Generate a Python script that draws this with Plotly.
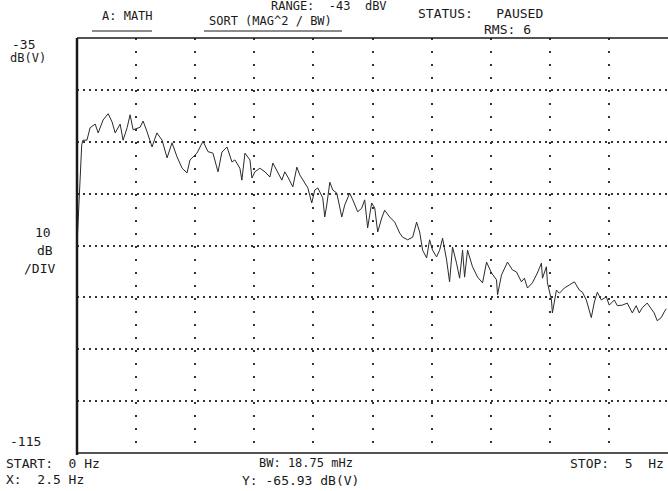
import plotly.graph_objects as go

# ---- data (frequency in Hz, level in dB(V)) ----
freq_hz = [0.00, 0.01, 0.02, 0.03, 0.04, 0.05, 0.084, 0.111, 0.154, 0.179, 0.221, 0.264, 0.297, 0.323,
           0.365, 0.390, 0.424, 0.449, 0.475, 0.534, 0.559, 0.593, 0.635, 0.676, 0.720, 0.762, 0.804,
           0.846, 0.889, 0.931, 0.956, 1.015, 1.066, 1.108, 1.150, 1.193, 1.226, 1.269, 1.311, 1.336,
           1.378, 1.395, 1.421, 1.463, 1.480, 1.505, 1.547, 1.590, 1.632, 1.657, 1.699, 1.733, 1.758,
           1.784, 1.826, 1.860, 1.885, 1.927, 1.953, 1.986, 2.012, 2.037, 2.079, 2.096, 2.113, 2.139,
           2.164, 2.198, 2.240, 2.265, 2.307, 2.333, 2.375, 2.409, 2.434, 2.459, 2.493, 2.519, 2.544,
           2.578, 2.603, 2.645, 2.688, 2.730, 2.755, 2.797, 2.840, 2.873, 2.899, 2.924, 2.958, 2.983,
           3.008, 3.042, 3.068, 3.093, 3.127, 3.152, 3.177, 3.211, 3.237, 3.262, 3.279, 3.304, 3.346,
           3.389, 3.431, 3.465, 3.507, 3.549, 3.558, 3.591, 3.642, 3.684, 3.718, 3.760, 3.785, 3.811,
           3.853, 3.895, 3.929, 3.938, 3.971, 3.980, 4.014, 4.022, 4.056, 4.081, 4.123, 4.166, 4.208,
           4.250, 4.276, 4.309, 4.334, 4.351, 4.377, 4.402, 4.436, 4.478, 4.503, 4.546, 4.571, 4.613,
           4.655, 4.698, 4.731, 4.757, 4.782, 4.824, 4.858, 4.883, 4.909, 4.943, 4.968, 4.985]
level_db = [-74.9, -70.1, -64.3, -58.5, -55.6, -54.7, -54.7, -52.3, -51.6, -53.3, -50.8, -49.6, -51.2, -53.3,
            -51.6, -54.7, -52.3, -49.8, -52.7, -52.2, -51.0, -53.1, -56.0, -53.3, -54.7, -58.1, -55.2,
            -57.9, -60.1, -61.0, -58.5, -57.2, -54.9, -56.9, -57.2, -60.8, -57.0, -56.0, -58.9, -58.5,
            -60.1, -62.4, -57.2, -58.5, -62.0, -60.8, -60.1, -60.8, -61.8, -59.1, -61.0, -62.4, -60.8,
            -61.8, -63.7, -59.9, -61.4, -63.0, -63.9, -66.8, -64.3, -63.9, -65.8, -69.5, -67.2, -62.8,
            -64.3, -64.9, -69.5, -67.2, -64.9, -66.2, -68.5, -67.8, -66.2, -71.6, -66.8, -67.8, -72.4,
            -69.7, -68.2, -69.5, -70.5, -72.6, -73.4, -73.9, -73.4, -70.5, -72.4, -75.9, -77.4, -73.9,
            -75.9, -77.2, -75.9, -73.6, -77.8, -82.0, -75.3, -78.4, -81.3, -75.9, -81.1, -75.9, -79.1,
            -81.1, -82.2, -78.2, -80.3, -81.6, -84.5, -80.7, -78.2, -79.7, -80.1, -82.0, -81.3, -83.2,
            -82.2, -80.3, -78.4, -81.3, -79.1, -82.2, -85.5, -88.0, -83.6, -84.2, -83.2, -82.6, -82.0,
            -83.6, -84.0, -85.5, -87.5, -88.9, -85.9, -84.0, -85.5, -84.9, -86.5, -85.5, -86.6, -86.5,
            -86.1, -88.0, -86.6, -88.0, -87.0, -86.1, -87.2, -88.0, -89.5, -88.9, -87.8, -87.2]

x_range = [0, 5]
y_range = [-115, -35]
x_div = 0.5
y_div = 10

header_texts = ["A: MATH", "SORT (MAG^2 / BW)", "RANGE:  -43  dBV", "STATUS:   PAUSED", "RMS: 6"]
left_texts = ["-35", "dB(V)", "10", "dB", "/DIV", "-115"]
footer_texts = ["START:  0 Hz", "X:  2.5 Hz", "BW: 18.75 mHz", "Y: -65.93 dB(V)", "STOP:  5  Hz"]

# ---- layout geometry (pixels) ----
W, H = 668, 491
L, R, T, B = 77, 0, 38, 38
PW, PH = W - L - R, H - T - B


def px(x):
    return (x - L) / PW


def py(y):
    return (H - B - y) / PH


INK = "#1a1a1a"
FONT = "DejaVu Sans Mono"

fig = go.Figure()
fig.add_trace(go.Scatter(x=freq_hz, y=level_db, mode="lines",
                         line=dict(color="#2a2a2a", width=1), hoverinfo="skip",
                         showlegend=False))

fig.update_xaxes(range=x_range, dtick=x_div, tick0=0, showticklabels=False, ticks="",
                 showgrid=True, gridcolor="#333333", gridwidth=2, griddash="2px,11px",
                 zeroline=False, showline=False)
fig.update_yaxes(range=y_range, dtick=y_div, tick0=-115, showticklabels=False, ticks="",
                 showgrid=True, gridcolor="#333333", gridwidth=1.5, griddash="2px,4px",
                 zeroline=False, showline=False)

shapes = [
    dict(type="line", xref="paper", yref="paper", x0=0, x1=0, y0=-0.005, y1=1.0,
         line=dict(color=INK, width=2.5)),
    dict(type="line", xref="paper", yref="paper", x0=0, x1=1, y0=1, y1=1,
         line=dict(color=INK, width=1.5)),
    dict(type="line", xref="paper", yref="paper", x0=0, x1=1, y0=0, y1=0,
         line=dict(color=INK, width=1.5)),
    dict(type="line", xref="paper", yref="paper", x0=px(92), x1=px(152), y0=py(31), y1=py(31),
         line=dict(color=INK, width=1)),
    dict(type="line", xref="paper", yref="paper", x0=px(204), x1=px(342), y0=py(31), y1=py(31),
         line=dict(color=INK, width=1)),
]

# (x, centre y, font size, anchor) in pixels
ann_pos = {
    "A: MATH": (100, 16, 12, "left"),
    "SORT (MAG^2 / BW)": (207, 21, 12, "left"),
    "RANGE:  -43  dBV": (269, 6, 12, "left"),
    "STATUS:   PAUSED": (416, 14, 13, "left"),
    "RMS: 6": (482, 29, 13, "left"),
    "-35": (10, 44, 13, "left"),
    "dB(V)": (8, 58, 12, "left"),
    "10": (33, 233, 13, "left"),
    "dB": (35, 250, 13, "left"),
    "/DIV": (22, 268, 13, "left"),
    "-115": (8, 441, 13, "left"),
    "START:  0 Hz": (4, 463, 13, "left"),
    "X:  2.5 Hz": (4, 479, 13, "left"),
    "BW: 18.75 mHz": (257, 463, 12, "left"),
    "Y: -65.93 dB(V)": (240, 480, 13, "left"),
    "STOP:  5  Hz": (666, 464, 13, "right"),
}

annotations = []
for t in header_texts + left_texts + footer_texts:
    x, y, s, anc = ann_pos[t]
    annotations.append(dict(text=t, xref="paper", yref="paper", x=px(x), y=py(y),
                            xanchor=anc, yanchor="middle", showarrow=False,
                            font=dict(family=FONT, size=s, color=INK)))

fig.update_layout(width=W, height=H, margin=dict(l=L, r=R, t=T, b=B),
                  paper_bgcolor="white", plot_bgcolor="white",
                  shapes=shapes, annotations=annotations, showlegend=False)

fig.write_html("out.html", config={"displayModeBar": False},
               post_script="document.body.style.margin='0';document.body.style.overflow='hidden';")
